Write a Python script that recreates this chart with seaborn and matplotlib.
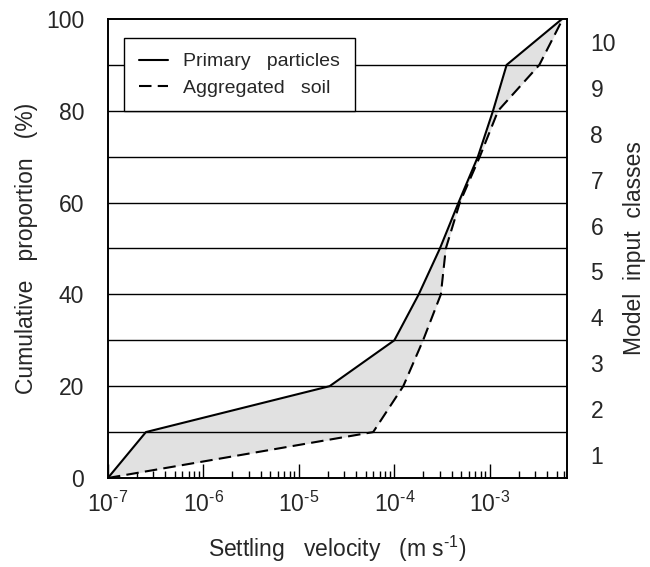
import numpy as np
import pandas as pd
import matplotlib
matplotlib.use("Agg")
import matplotlib.pyplot as plt
import matplotlib.ticker as mticker
import seaborn as sns

# ---- data ----
proportion = [0, 10, 20, 30, 40, 50, 60, 70, 80, 90, 100]
primary_velocity = [1e-7, 2.5e-7, 2.1e-5, 1.0e-4, 1.8e-4, 3.0e-4, 4.7e-4, 7.5e-4, 1.08e-3, 1.5e-3, 5.7e-3]
aggregated_velocity = [1e-7, 6.0e-5, 1.24e-4, 2.0e-4, 3.07e-4, 3.46e-4, 4.85e-4, 7.85e-4, 1.22e-3, 3.3e-3, 5.8e-3]
series_names = ["Primary   particles", "Aggregated   soil"]
class_labels = ["1", "2", "3", "4", "5", "6", "7", "8", "9", "10"]
y_ticks = [0, 20, 40, 60, 80, 100]

sns.set_theme(style="white")
plt.rcParams["font.family"] = ["Liberation Sans", "DejaVu Sans"]
plt.rcParams["mathtext.fontset"] = "custom"
plt.rcParams["mathtext.rm"] = "Liberation Sans"
plt.rcParams["mathtext.it"] = "Liberation Sans:italic"
plt.rcParams["mathtext.bf"] = "Liberation Sans:bold"

FS = 16.5

df = pd.DataFrame({
    "velocity": primary_velocity + aggregated_velocity,
    "proportion": proportion + proportion,
    "series": [series_names[0]] * len(proportion) + [series_names[1]] * len(proportion),
})

fig = plt.figure(figsize=(6.5, 5.67), dpi=100)
ax = fig.add_axes([0.166, 0.157, 0.706, 0.8095])

ax.fill_betweenx(proportion, primary_velocity, aggregated_velocity,
                 color="#e1e1e1", linewidth=0, zorder=1)
for yv in range(10, 100, 10):
    ax.axhline(yv, color="black", lw=1.0, zorder=2)

sns.lineplot(data=df, x="velocity", y="proportion", style="series",
             dashes={series_names[0]: "", series_names[1]: (6, 3)},
             color="black", lw=1.5, sort=False, estimator=None, ax=ax, zorder=3)

def log_fmt(v, pos):
    e = int(round(np.log10(v)))
    return "10$^{\u2010" + str(abs(e)) + "}$" if e < 0 else "10$^{" + str(e) + "}$"

ax.set_xscale("log")
ax.set_xlim(1e-7, 6.4e-3)
ax.set_ylim(0, 100)
ax.set_yticks(y_ticks)
ax.xaxis.set_major_locator(mticker.LogLocator(base=10, numticks=10))
ax.xaxis.set_major_formatter(mticker.FuncFormatter(log_fmt))
ax.xaxis.set_minor_locator(mticker.LogLocator(base=10, subs=np.arange(2, 10), numticks=20))
ax.xaxis.set_minor_formatter(mticker.NullFormatter())
ax.tick_params(axis="x", which="major", direction="in", length=10, width=1, pad=10,
               labelsize=FS, bottom=True, color="black")
ax.tick_params(axis="x", which="minor", direction="in", length=5, width=1, bottom=True, color="black")
ax.tick_params(axis="y", which="major", direction="out", length=0, pad=17, labelsize=FS, left=True)

for s in ax.spines.values():
    s.set_color("black")
    s.set_linewidth(1.2)

ax.set_xlabel("Settling   velocity   (m s$^{\u20101}$)", fontsize=FS, labelpad=12)
ax.set_ylabel("Cumulative   proportion   (%)", fontsize=FS, labelpad=6)

ax2 = ax.twinx()
ax2.set_ylim(0, 100)
ax2.set_yticks([5 + 10 * i for i in range(10)])
ax2.set_yticklabels(class_labels)
ax2.tick_params(axis="y", length=0, pad=17, labelsize=FS)
ax2.set_ylabel("Model  input  classes", fontsize=FS, labelpad=5)
for s in ax2.spines.values():
    s.set_color("black")
    s.set_linewidth(1.2)

leg = ax.legend(loc="upper left", bbox_to_anchor=(0.035, 0.958), borderaxespad=0,
                frameon=True, fancybox=False, edgecolor="black", framealpha=1,
                fontsize=14, handlelength=1.5, handletextpad=0.8,
                borderpad=0.75, labelspacing=0.45)
leg.get_frame().set_linewidth(1.0)
leg.set_zorder(5)

fig.savefig("out.png", dpi=100)
